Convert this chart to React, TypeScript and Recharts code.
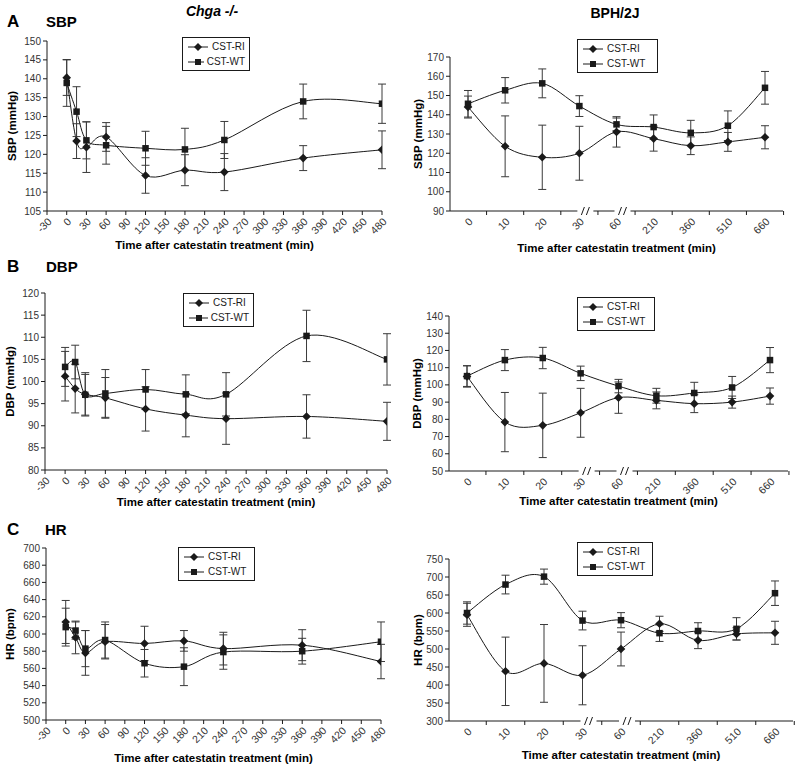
import React from 'react';
import { LineChart, Line, XAxis, YAxis, ErrorBar, Legend } from 'recharts';

const FONT = 'Arial, "Liberation Sans", Helvetica, sans-serif';
const INK = '#1a1a1a';
const BAR = '#3a3a3a';

// Chga -/- mice: sampling times (min) on a linear axis
const chgaTimes = [0, 15, 30, 60, 120, 180, 240, 360, 480];
const chgaTicks = [-30, 0, 30, 60, 90, 120, 150, 180, 210, 240, 270, 300, 330, 360, 390, 420, 450, 480];
// BPH/2J mice: categorical axis, broken after 30 and 60
const bphTimes = ['0', '10', '20', '30', '60', '210', '360', '510', '660'];
const bphBreaks = ['30', '60'];

const seriesNames = ['CST-RI', 'CST-WT'];

// A - SBP (mmHg)
const sbpChgaRI = [140.3, 123.5, 121.9, 124.6, 114.4, 115.8, 115.3, 119.0, 121.2];
const sbpChgaRIErr = [4.7, 4.6, 6.7, 3.8, 4.7, 4.1, 4.9, 3.3, 5.0];
const sbpChgaWT = [138.9, 131.3, 123.7, 122.4, 121.6, 121.3, 123.8, 134.0, 133.4];
const sbpChgaWTErr = [6.2, 6.6, 4.9, 5.0, 4.5, 5.6, 4.9, 4.6, 5.2];
const sbpBphRI = [144.0, 123.6, 117.9, 120.0, 131.1, 127.6, 123.9, 125.9, 128.3];
const sbpBphRIErr = [5.7, 15.8, 16.7, 14.0, 7.9, 6.5, 4.6, 4.9, 6.0];
const sbpBphWT = [145.7, 152.7, 156.3, 144.5, 135.0, 133.6, 130.6, 134.3, 154.0];
const sbpBphWTErr = [6.9, 6.6, 7.5, 5.4, 3.3, 6.3, 6.5, 7.7, 8.5];

// B - DBP (mmHg)
const dbpChgaRI = [101.2, 98.4, 97.1, 96.3, 93.8, 92.4, 91.6, 92.1, 91.0];
const dbpChgaRIErr = [5.6, 5.5, 4.9, 4.6, 5.0, 4.9, 5.8, 4.9, 4.3];
const dbpChgaWT = [103.3, 104.4, 97.0, 97.3, 98.2, 97.1, 97.1, 110.3, 105.0];
const dbpChgaWTErr = [4.4, 3.8, 4.6, 5.4, 4.5, 4.4, 4.9, 5.8, 5.8];
const dbpBphRI = [104.9, 78.4, 76.5, 83.8, 92.6, 91.0, 89.1, 90.0, 93.5];
const dbpBphRIErr = [6.2, 17.2, 18.7, 14.2, 9.1, 4.9, 5.2, 3.5, 4.7];
const dbpBphWT = [105.1, 114.4, 115.6, 106.7, 99.3, 93.7, 95.3, 98.5, 114.4];
const dbpBphWTErr = [6.0, 6.1, 6.2, 4.2, 3.9, 4.3, 6.2, 6.4, 7.3];

// C - HR (bpm)
const hrChgaRI = [614, 596, 578, 591, 589, 592, 583, 587, 568];
const hrChgaRIErr = [25, 19, 26, 20, 20, 12, 19, 18, 20];
const hrChgaWT = [608, 604, 583, 593, 566, 562, 579, 580, 591];
const hrChgaWTErr = [22, 10, 21, 21, 16, 22, 20, 15, 23];
const hrBphRI = [595, 438, 460, 427, 500, 570, 524, 542, 545];
const hrBphRIErr = [32, 95, 108, 82, 47, 21, 23, 17, 32];
const hrBphWT = [600, 679, 701, 579, 580, 544, 550, 556, 655];
const hrBphWTErr = [31, 26, 21, 26, 21, 23, 23, 31, 34];

// y axis ticks
const sbpChgaTicks = [105, 110, 115, 120, 125, 130, 135, 140, 145, 150];
const sbpBphTicks = [90, 100, 110, 120, 130, 140, 150, 160, 170];
const dbpChgaTicks = [80, 85, 90, 95, 100, 105, 110, 115, 120];
const dbpBphTicks = [50, 60, 70, 80, 90, 100, 110, 120, 130, 140];
const hrChgaTicks = [500, 520, 540, 560, 580, 600, 620, 640, 660, 680, 700];
const hrBphTicks = [300, 350, 400, 450, 500, 550, 600, 650, 700, 750];

const makeRows = (x: (number | string)[], ri: number[], riErr: number[], wt: number[], wtErr: number[]) =>
  x.map((t, i) => ({ t, ri: ri[i], riErr: riErr[i], wt: wt[i], wtErr: wtErr[i] }));

const PAD = 18;
const X_TITLE = 'Time after catestatin treatment (min)';

// spreadsheet-style smoothed line (Catmull-Rom through the points)
const smoothCurve = (context: any) => {
  let pts: [number, number][] = [];
  return {
    areaStart() {},
    areaEnd() {},
    lineStart() {
      pts = [];
    },
    point(x: number, y: number) {
      pts.push([+x, +y]);
    },
    lineEnd() {
      if (!pts.length) return;
      context.moveTo(pts[0][0], pts[0][1]);
      for (let i = 0; i < pts.length - 1; i++) {
        const p0 = pts[i - 1] || pts[i];
        const p1 = pts[i];
        const p2 = pts[i + 1];
        const p3 = pts[i + 2] || p2;
        context.bezierCurveTo(
          p1[0] + (p2[0] - p0[0]) / 6,
          p1[1] + (p2[1] - p0[1]) / 6,
          p2[0] - (p3[0] - p1[0]) / 6,
          p2[1] - (p3[1] - p1[1]) / 6,
          p2[0],
          p2[1],
        );
      }
    },
  };
};

const Diamond = ({ cx, cy, r = 4.3 }: { cx: number; cy: number; r?: number }) => (
  <path d={`M${cx},${cy - r}L${cx + r},${cy}L${cx},${cy + r}L${cx - r},${cy}Z`} fill={INK} />
);
const Square = ({ cx, cy, s = 6.5 }: { cx: number; cy: number; s?: number }) => (
  <rect x={cx - s / 2} y={cy - s / 2} width={s} height={s} fill={INK} />
);

const diamondDot = (p: any) =>
  p.cx == null ? <g key={`d${p.index}`} /> : <Diamond key={`d${p.index}`} cx={p.cx} cy={p.cy} />;
const squareDot = (p: any) =>
  p.cx == null ? <g key={`s${p.index}`} /> : <Square key={`s${p.index}`} cx={p.cx} cy={p.cy} />;

const LegendBox = () => (
  <div
    style={{
      border: `1px solid ${INK}`,
      background: '#fff',
      padding: '1px 4px',
      fontFamily: FONT,
      fontSize: 10,
      color: INK,
      lineHeight: '15px',
      boxSizing: 'border-box',
    }}
  >
    {seriesNames.map((name, i) => (
      <div key={name} style={{ display: 'flex', alignItems: 'center', whiteSpace: 'nowrap' }}>
        <svg width={22} height={12}>
          <line x1={1} y1={6} x2={21} y2={6} stroke={INK} />
          {i === 0 ? <Diamond cx={11} cy={6} r={4} /> : <Square cx={11} cy={6} s={6} />}
        </svg>
        <span style={{ marginLeft: 3 }}>{name}</span>
      </div>
    ))}
  </div>
);

const BphTick = (props: any) => {
  const { x, y, payload, step } = props;
  const axisY = y - 6;
  const isBreak = bphBreaks.includes(String(payload.value));
  const bx = x + 6;
  return (
    <g>
      <line x1={x + step / 2} y1={axisY} x2={x + step / 2} y2={axisY + 4} stroke={INK} />
      {isBreak && (
        <g>
          <rect x={bx - 8} y={axisY - 2} width={16} height={4} fill="#fff" />
          <line x1={bx - 4} y1={axisY + 4} x2={bx - 1} y2={axisY - 4} stroke={INK} />
          <line x1={bx + 1} y1={axisY + 4} x2={bx + 4} y2={axisY - 4} stroke={INK} />
        </g>
      )}
      <text
        x={x}
        y={y}
        dy="0.71em"
        textAnchor="end"
        transform={`rotate(-45, ${x}, ${y})`}
        fontSize={10.5}
        fontFamily={FONT}
        fill="#333"
      >
        {payload.value}
      </text>
    </g>
  );
};

type PanelCfg = {
  left: number;
  top: number;
  width: number;
  height: number;
  plot: [number, number, number, number];
  rows: any[];
  yTicks: number[];
  yTitle: string;
  yTitleOffset: number;
  xTitleOffset: number;
  legend: { left: number; top: number; width: number };
  kind: 'chga' | 'bph';
};

const yTickStyle = { fontSize: 10, fontFamily: FONT, fill: '#333' };
const xTickStyle = { fontSize: 10.5, fontFamily: FONT, fill: '#333' };
const titleStyle = { fontSize: 11.5, fontFamily: FONT, fontWeight: 700, fill: '#000' };

const Panel = (c: PanelCfg) => {
  const [x0, y0, x1, y1] = c.plot;
  const margin = { top: y0 - c.top, right: c.left + c.width - x1, bottom: 0, left: 0 };
  const step = (x1 - x0 - 2 * PAD) / (bphTimes.length - 1);
  const yDomain = [c.yTicks[0], c.yTicks[c.yTicks.length - 1]];
  return (
    <div style={{ position: 'absolute', left: c.left, top: c.top }}>
      <LineChart width={c.width} height={c.height} data={c.rows} margin={margin}>
        {c.kind === 'chga' ? (
          <XAxis
            dataKey="t"
            type="number"
            domain={[chgaTicks[0], chgaTicks[chgaTicks.length - 1]]}
            ticks={chgaTicks}
            interval={0}
            allowDataOverflow
            height={c.top + c.height - y1}
            stroke={INK}
            tickSize={4}
            angle={-45}
            textAnchor="end"
            tick={xTickStyle}
            label={{ value: X_TITLE, position: 'insideBottom', offset: c.xTitleOffset, style: titleStyle }}
          />
        ) : (
          <XAxis
            dataKey="t"
            type="category"
            padding={{ left: PAD, right: PAD }}
            interval={0}
            height={c.top + c.height - y1}
            stroke={INK}
            tickSize={4}
            tickLine={false}
            tick={(p: any) => <BphTick {...p} step={step} />}
            label={{ value: X_TITLE, position: 'insideBottom', offset: c.xTitleOffset, style: titleStyle }}
          />
        )}
        <YAxis
          type="number"
          domain={yDomain}
          ticks={c.yTicks}
          interval={0}
          width={x0 - c.left}
          stroke={INK}
          tickSize={4}
          tick={yTickStyle}
          label={{
            value: c.yTitle,
            angle: -90,
            position: 'insideLeft',
            offset: c.yTitleOffset,
            style: { ...titleStyle, textAnchor: 'middle' },
          }}
        />
        <Legend
          content={<LegendBox />}
          layout="vertical"
          align="center"
          verticalAlign="middle"
          wrapperStyle={{ left: c.legend.left, top: c.legend.top, width: c.legend.width, height: 'auto' }}
        />
        <Line
          dataKey="ri"
          name={seriesNames[0]}
          type={smoothCurve as any}
          stroke={INK}
          strokeWidth={1}
          dot={diamondDot}
          activeDot={false}
          isAnimationActive={false}
        >
          <ErrorBar dataKey="riErr" direction="y" width={4} stroke={BAR} strokeWidth={1} />
        </Line>
        <Line
          dataKey="wt"
          name={seriesNames[1]}
          type={smoothCurve as any}
          stroke={INK}
          strokeWidth={1}
          dot={squareDot}
          activeDot={false}
          isAnimationActive={false}
        >
          <ErrorBar dataKey="wtErr" direction="y" width={4} stroke={BAR} strokeWidth={1} />
        </Line>
      </LineChart>
    </div>
  );
};

const panels: PanelCfg[] = [
  {
    left: 0, top: 0, width: 400, height: 255, plot: [47, 41, 382, 211],
    rows: makeRows(chgaTimes, sbpChgaRI, sbpChgaRIErr, sbpChgaWT, sbpChgaWTErr),
    yTicks: sbpChgaTicks, yTitle: 'SBP (mmHg)', yTitleOffset: 12, xTitleOffset: 6,
    legend: { left: 182, top: 37, width: 68 }, kind: 'chga',
  },
  {
    left: 400, top: 0, width: 400, height: 255, plot: [450, 57, 783, 211],
    rows: makeRows(bphTimes, sbpBphRI, sbpBphRIErr, sbpBphWT, sbpBphWTErr),
    yTicks: sbpBphTicks, yTitle: 'SBP (mmHg)', yTitleOffset: 18, xTitleOffset: 3,
    legend: { left: 177, top: 39, width: 81 }, kind: 'bph',
  },
  {
    left: 0, top: 255, width: 400, height: 255, plot: [45, 293, 387, 470],
    rows: makeRows(chgaTimes, dbpChgaRI, dbpChgaRIErr, dbpChgaWT, dbpChgaWTErr),
    yTicks: dbpChgaTicks, yTitle: 'DBP (mmHg)', yTitleOffset: 10, xTitleOffset: 4,
    legend: { left: 183, top: 38, width: 71 }, kind: 'chga',
  },
  {
    left: 400, top: 255, width: 400, height: 255, plot: [449, 316, 788, 471],
    rows: makeRows(bphTimes, dbpBphRI, dbpBphRIErr, dbpBphWT, dbpBphWTErr),
    yTicks: dbpBphTicks, yTitle: 'DBP (mmHg)', yTitleOffset: 17, xTitleOffset: 5,
    legend: { left: 177, top: 42, width: 78 }, kind: 'bph',
  },
  {
    left: 0, top: 510, width: 400, height: 258, plot: [46, 548, 381, 720],
    rows: makeRows(chgaTimes, hrChgaRI, hrChgaRIErr, hrChgaWT, hrChgaWTErr),
    yTicks: hrChgaTicks, yTitle: 'HR (bpm)', yTitleOffset: 10, xTitleOffset: 6,
    legend: { left: 178, top: 37, width: 77 }, kind: 'chga',
  },
  {
    left: 400, top: 510, width: 400, height: 258, plot: [449, 559, 793, 721],
    rows: makeRows(bphTimes, hrBphRI, hrBphRIErr, hrBphWT, hrBphWTErr),
    yTicks: hrBphTicks, yTitle: 'HR (bpm)', yTitleOffset: 18, xTitleOffset: 9,
    legend: { left: 177, top: 32, width: 76 }, kind: 'bph',
  },
];

const headers = [
  { text: 'A', left: 7, top: 13, size: 17 },
  { text: 'SBP', left: 46, top: 14, size: 15 },
  { text: 'B', left: 7, top: 258, size: 17 },
  { text: 'DBP', left: 46, top: 259, size: 15 },
  { text: 'C', left: 7, top: 521, size: 17 },
  { text: 'HR', left: 45, top: 522, size: 15 },
];

export default function App() {
  return (
    <div style={{ position: 'absolute', left: 0, top: 0, width: 800, height: 768, background: '#fff', fontFamily: FONT, overflow: 'hidden' }}>
      {panels.map((p, i) => (
        <Panel key={i} {...p} />
      ))}
      {headers.map((h) => (
        <div key={h.text} style={{ position: 'absolute', left: h.left, top: h.top, fontSize: h.size, fontWeight: 700, lineHeight: 1, color: '#000' }}>
          {h.text}
        </div>
      ))}
      <div style={{ position: 'absolute', left: 162, top: 4, width: 100, textAlign: 'center', fontSize: 14, fontWeight: 700, fontStyle: 'italic', lineHeight: 1 }}>
        Chga -/-
      </div>
      <div style={{ position: 'absolute', left: 565, top: 6, width: 100, textAlign: 'center', fontSize: 14, fontWeight: 700, lineHeight: 1 }}>
        BPH/2J
      </div>
    </div>
  );
}
